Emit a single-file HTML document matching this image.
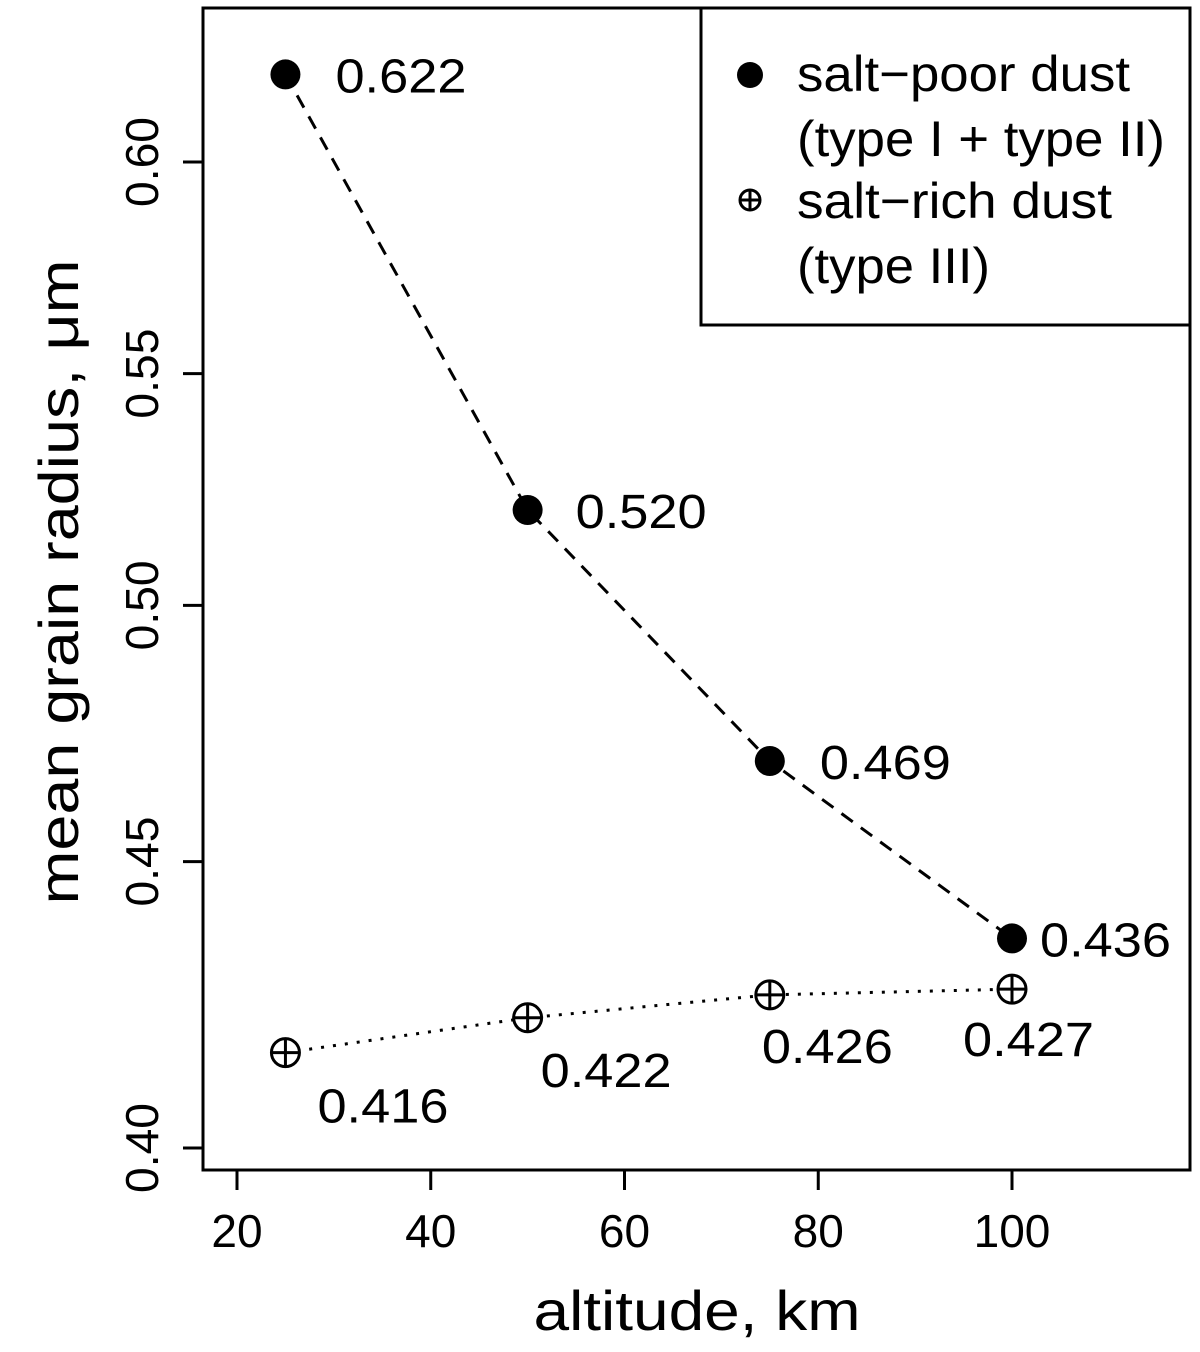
<!DOCTYPE html>
<html><head><meta charset="utf-8"><style>
html,body{margin:0;padding:0;background:#fff;}
svg text{font-family:"Liberation Sans",Arial,sans-serif;fill:#000;}
</style></head><body>
<svg id="chart" width="1200" height="1347" viewBox="0 0 1200 1347" xmlns="http://www.w3.org/2000/svg">
<rect x="203" y="8" width="987" height="1162" fill="none" stroke="#000" stroke-width="3"/>
<g id="axes"></g>
<g id="series"></g>
<text x="697" y="1330" font-size="56" text-anchor="middle" textLength="327" lengthAdjust="spacingAndGlyphs">altitude, km</text>
<text transform="translate(78,582) rotate(-90)" font-size="56" text-anchor="middle" textLength="645" lengthAdjust="spacingAndGlyphs">mean grain radius, μm</text>
<g>
<rect x="701" y="8" width="489" height="317" fill="#fff" stroke="#000" stroke-width="3"/>
<circle cx="750" cy="75" r="13" fill="#000"/>
<text x="797" y="91" font-size="50" textLength="333" lengthAdjust="spacingAndGlyphs">salt−poor dust</text>
<text x="797" y="156" font-size="50" textLength="368" lengthAdjust="spacingAndGlyphs">(type I + type II)</text>
<g stroke="#000" stroke-width="3" fill="none">
<circle cx="750" cy="200" r="10"/><line x1="740" y1="200" x2="760" y2="200"/><line x1="750" y1="190" x2="750" y2="210"/></g>
<text x="797" y="218" font-size="50" textLength="315" lengthAdjust="spacingAndGlyphs">salt−rich dust</text>
<text x="797" y="283" font-size="50" textLength="193" lengthAdjust="spacingAndGlyphs">(type III)</text>
</g>
</svg>
<script>
const altitudes = [25, 50, 75, 100];
const saltPoor = [0.622, 0.520, 0.469, 0.436];
const saltRich = [0.416, 0.422, 0.426, 0.427];
const xTicks = [20, 40, 60, 80, 100];
const yTicks = [0.40, 0.45, 0.50, 0.55, 0.60];
const yTickLabels = ["0.40", "0.45", "0.50", "0.55", "0.60"];

const NS = "http://www.w3.org/2000/svg";
function xs(v){ return 237 + (v - 20) * (1012 - 237) / 80; }
function ys(v){ return 162 + (Math.log10(0.6) - Math.log10(v)) * 986 / (Math.log10(0.6) - Math.log10(0.4)); }
function mk(tag, attrs, parent){ const e = document.createElementNS(NS, tag); for (const k in attrs) e.setAttribute(k, attrs[k]); parent.appendChild(e); return e; }

const axes = document.getElementById('axes');
const series = document.getElementById('series');

xTicks.forEach(t => {
  const l = mk('line', {x1: xs(t), x2: xs(t), y1: 1170, y2: 1190, stroke: '#000', 'stroke-width': 3}, axes);
  
  
  const tx = mk('text', {x: xs(t), y: 1247, 'font-size': 46, 'text-anchor': 'middle'}, axes);
  tx.textContent = t;
  
  
});
yTicks.forEach((t, i) => {
  const l = mk('line', {x1: 183, x2: 203, y1: ys(t), y2: ys(t), stroke: '#000', 'stroke-width': 3}, axes);
  
  
  const tx = mk('text', {transform: `translate(158,${ys(t)}) rotate(-90)`, 'font-size': 46, 'text-anchor': 'middle', textLength: 90, lengthAdjust: 'spacingAndGlyphs'}, axes);
  tx.textContent = yTickLabels[i];
  
  
});

const pPoor = altitudes.map((a, i) => xs(a) + ',' + ys(saltPoor[i])).join(' ');
const l1 = mk('polyline', {points: pPoor, fill: 'none', stroke: '#000', 'stroke-width': 3, 'stroke-dasharray': '14 10'}, series);


const pRich = altitudes.map((a, i) => xs(a) + ',' + ys(saltRich[i])).join(' ');
const l2 = mk('polyline', {points: pRich, fill: 'none', stroke: '#000', 'stroke-width': 3, 'stroke-dasharray': '3 9'}, series);



const poorDx = [50, 48, 50, 28];
altitudes.forEach((a, i) => {
  const c = mk('circle', {cx: xs(a), cy: ys(saltPoor[i]), r: 15, fill: '#000'}, series);
  
  
  const t = mk('text', {x: xs(a) + poorDx[i], y: ys(saltPoor[i]) + 18, 'font-size': 48, textLength: 131, lengthAdjust: 'spacingAndGlyphs'}, series);
  t.textContent = saltPoor[i].toFixed(3);
  
  
});
const richDx = [32, 13, -8, -49];
const richDy = [70, 69, 68, 67];
altitudes.forEach((a, i) => {
  const cx = xs(a), cy = ys(saltRich[i]);
  const g = mk('g', {stroke: '#000', 'stroke-width': 3, fill: 'none'}, series);
  
  
  mk('circle', {cx: cx, cy: cy, r: 14, fill: '#fff'}, g);
  mk('line', {x1: cx - 14, x2: cx + 14, y1: cy, y2: cy}, g);
  mk('line', {x1: cx, x2: cx, y1: cy - 14, y2: cy + 14}, g);
  const t = mk('text', {x: cx + richDx[i], y: cy + richDy[i], 'font-size': 48, textLength: 131, lengthAdjust: 'spacingAndGlyphs'}, series);
  t.textContent = saltRich[i].toFixed(3);
  
  
});
</script>
</body></html>
